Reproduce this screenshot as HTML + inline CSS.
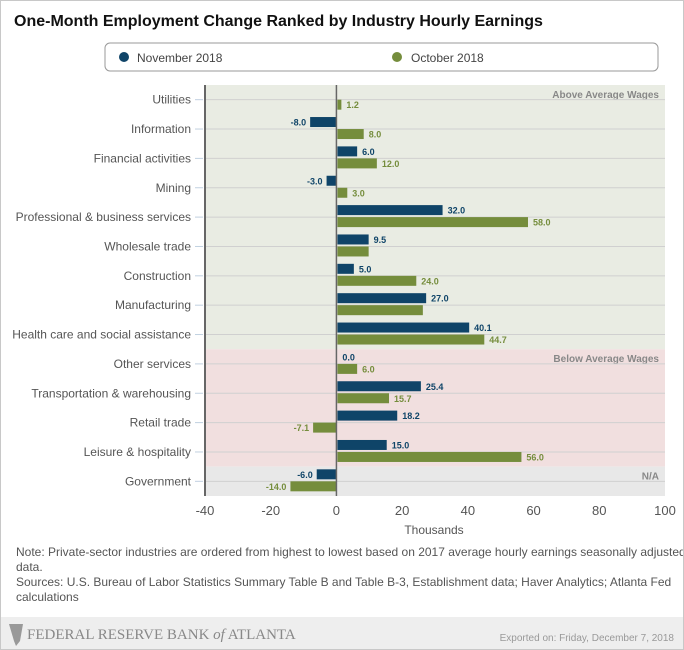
<!DOCTYPE html>
<html><head><meta charset="utf-8"><style>
body{margin:0;background:#fff;font-family:"Liberation Sans",Arial,sans-serif;}
#wrap{position:relative;width:682px;height:648px;border:1px solid #c8c8c8;overflow:hidden;background:#fff}
</style></head><body>
<div id="wrap">
<svg id="svg" width="682" height="648" xmlns="http://www.w3.org/2000/svg" font-family="Liberation Sans, Arial, sans-serif">
<text x="13" y="25" font-size="16" font-weight="bold" fill="#111">One-Month Employment Change Ranked by Industry Hourly Earnings</text>
<g>
<rect x="104" y="42" width="553" height="28" rx="5" fill="#fff" stroke="#999"/>
<g><circle cx="123" cy="56" r="5" fill="#0f4468"/><text x="136" y="61" font-size="12" fill="#444">November 2018</text></g>
<g><circle cx="396" cy="56" r="5" fill="#758d3c"/><text x="410" y="61" font-size="12" fill="#444">October 2018</text></g>
</g>
<g id="plot"></g>
<text x="433" y="533" font-size="12" fill="#555" text-anchor="middle">Thousands</text>
<text x="15" y="555" font-size="12" fill="#555">Note: Private-sector industries are ordered from highest to lowest based on 2017 average hourly earnings seasonally adjusted</text>
<text x="15" y="570" font-size="12" fill="#555">data.</text>
<text x="15" y="585" font-size="12" fill="#555">Sources: U.S. Bureau of Labor Statistics Summary Table B and Table B-3, Establishment data; Haver Analytics; Atlanta Fed</text>
<text x="15" y="600" font-size="12" fill="#555">calculations</text>
<rect x="0" y="616" width="682" height="32" fill="#eeeeee"/>
<path d="M8 623 L22 623 L19 640 L15 645 L13 640 Z" fill="#999"/>
<text x="26" y="638" font-size="15" fill="#888" font-family="Liberation Serif, serif">FEDERAL RESERVE BANK <tspan font-style="italic">of</tspan> ATLANTA</text>
<text x="673" y="640" font-size="10" fill="#999" text-anchor="end">Exported on: Friday, December 7, 2018</text>
</svg>
</div>
<script>
const categories=["Utilities","Information","Financial activities","Mining","Professional & business services","Wholesale trade","Construction","Manufacturing","Health care and social assistance","Other services","Transportation & warehousing","Retail trade","Leisure & hospitality","Government"];
const november=[null,-8.0,6.0,-3.0,32.0,9.5,5.0,27.0,40.1,0.0,25.4,18.2,15.0,-6.0];
const october=[1.2,8.0,12.0,3.0,58.0,9.5,24.0,26.0,44.7,6.0,15.7,-7.1,56.0,-14.0];
const novLabels=[null,"-8.0","6.0","-3.0","32.0","9.5","5.0","27.0","40.1","0.0","25.4","18.2","15.0","-6.0"];
const octLabels=["1.2","8.0","12.0","3.0","58.0",null,"24.0",null,"44.7","6.0","15.7","-7.1","56.0","-14.0"];
const xTicks=[-40,-20,0,20,40,60,80,100];
const bands=[{from:0,to:9,label:"Above Average Wages",color:"#e9ece3"},{from:9,to:13,label:"Below Average Wages",color:"#f1dfdf"},{from:13,to:14,label:"N/A",color:"#e8e8e8"}];
const NS="http://www.w3.org/2000/svg";
const g=document.getElementById("plot");
const L=204,R=664,T=84,B=495,xmin=-40,xmax=100;
const x=v=>L+(v-xmin)/(xmax-xmin)*(R-L);
const bh=(B-T)/categories.length;
const yc=i=>T+(i+0.5)*bh;
function el(tag,a,txt){const e=document.createElementNS(NS,tag);for(const k in a)e.setAttribute(k,a[k]);if(txt!=null)e.textContent=txt;g.appendChild(e);return e;}
bands.forEach(b=>{
 const r=el("rect",{x:L,y:T+b.from*bh,width:R-L,height:(b.to-b.from)*bh,fill:b.color});
 
 
 const t=el("text",{x:R-6,y:T+b.from*bh+13,"font-size":10,"font-weight":"bold",fill:"#888","text-anchor":"end"},b.label);
 
 
});
categories.forEach((c,i)=>{
 const y=yc(i);
 const gl=el("line",{x1:L,x2:R,y1:y,y2:y,stroke:"#d0d0d0"});
 
 
 el("line",{x1:L-10,x2:L-2,y1:y,y2:y,stroke:"#c0d0e0"});
 const t=el("text",{x:L-14,y:y+4,"font-size":12,fill:"#555","text-anchor":"end"},c);
 
 
});
function bar(v,i,off,color,lab){
 if(v==null)return;
 const x0=x(0),x1=x(v);
 const r=el("rect",{x:Math.min(x0,x1)+(v>=0?1:0),y:yc(i)+off,width:Math.abs(x1-x0),height:10,fill:color});
 
 
 if(lab){
  const t=el("text",{x:v>=0?x1+6:x1-4,y:yc(i)+off+8.5,"font-size":9,"font-weight":"bold",fill:color,"text-anchor":v>=0?"start":"end"},lab);
  
  
 }
}
categories.forEach((c,i)=>{bar(november[i],i,-12,"#0f4468",novLabels[i]);bar(october[i],i,0,"#758d3c",octLabels[i]);});
el("line",{x1:L,x2:L,y1:T,y2:B,stroke:"#666","stroke-width":2});
const z=el("line",{x1:x(0),x2:x(0),y1:T,y2:B,stroke:"#666","stroke-width":1.5});


xTicks.forEach(v=>{
 const t=el("text",{x:x(v),y:514,"font-size":13,fill:"#555","text-anchor":"middle"},String(v));
 
 
});
</script>
</body></html>
